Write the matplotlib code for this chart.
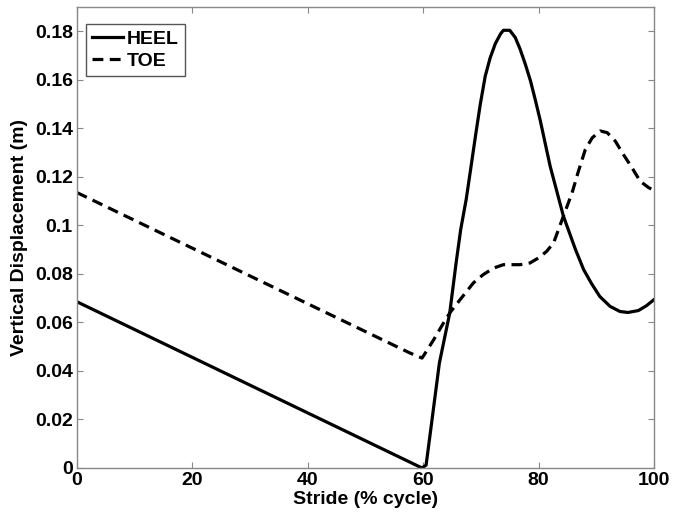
import matplotlib
matplotlib.use("Agg")
import matplotlib.pyplot as plt

heel_x = [0, 59.8, 60.5, 61.3, 62.8, 64.6, 65.7, 66.5, 67.45, 68.3, 69.1, 69.9, 70.75, 71.6,
          72.5, 73.4, 73.9, 75.0, 75.96, 76.8, 77.7, 78.6, 79.4, 80.3, 82.0, 84.3, 86.4,
          87.8, 89.1, 90.6, 92.4, 94.1, 95.5, 97.3, 98.7, 100]
heel_y = [0.0685, 0.0, 0.0012, 0.0157, 0.0432, 0.0639, 0.0845, 0.0983, 0.1107, 0.1244, 0.1375,
          0.1500, 0.1615, 0.1690, 0.1749, 0.1789, 0.1804, 0.1804, 0.1774, 0.1726, 0.1664,
          0.1595, 0.152, 0.1431, 0.1244, 0.1038, 0.090, 0.0818, 0.0763, 0.0707, 0.0666,
          0.0645, 0.0641, 0.0649, 0.0669, 0.0694]

toe_x = [0, 57.7, 59.8, 61.8, 63.5, 64.6, 66.4, 68.7, 70.4, 72.2, 73.9, 76.8, 78.5, 80.0,
         81.4, 82.6, 84.3, 85.8, 86.9, 88.1, 89.3, 90.7, 91.9, 93.3, 94.7, 96.2, 97.6,
         99.1, 100]
toe_y = [0.1135, 0.0474, 0.0453, 0.0528, 0.0597, 0.0639, 0.0694, 0.0763, 0.0797, 0.0824,
         0.0838, 0.0838, 0.0845, 0.0866, 0.0893, 0.0928, 0.1038, 0.1134, 0.1223, 0.1313,
         0.1361, 0.1389, 0.1382, 0.1347, 0.1292, 0.1237, 0.1182, 0.1155, 0.1145]

series_labels = ["HEEL", "TOE"]
x_ticks = [0, 20, 40, 60, 80, 100]
y_ticks = [0, 0.02, 0.04, 0.06, 0.08, 0.1, 0.12, 0.14, 0.16, 0.18]
y_ticklabels = ["0", "0.02", "0.04", "0.06", "0.08", "0.1", "0.12", "0.14", "0.16", "0.18"]

plt.rcParams['font.family'] = ['Liberation Sans', 'DejaVu Sans']
plt.rcParams['font.weight'] = 'bold'

fig = plt.figure(figsize=(6.74, 5.18), dpi=100)
ax = fig.add_axes([77/674, 1 - 468/518, (654 - 77)/674, (468 - 7)/518])

ax.plot(heel_x, heel_y, color='black', lw=2.3, label=series_labels[0],
        solid_joinstyle='round')
l2, = ax.plot(toe_x, toe_y, color='black', lw=2.3, label=series_labels[1])
l2.set_dashes([3.4, 2.0])

ax.set_xlim(0, 100)
ax.set_ylim(0, 0.19)
ax.set_xticks(x_ticks)
ax.set_yticks(y_ticks)
ax.set_yticklabels(y_ticklabels)

for s in ax.spines.values():
    s.set_color('#888888')
    s.set_linewidth(1.0)
ax.tick_params(direction='in', length=4, width=0.8, color='#888888', top=True, right=True,
               labelsize=14, labelcolor='black', pad=3)
for lab in ax.get_xticklabels() + ax.get_yticklabels():
    lab.set_fontweight('bold')

ax.set_xlabel("Stride (% cycle)", fontsize=14, fontweight='bold', labelpad=1)
ax.set_ylabel("Vertical Displacement (m)", fontsize=14, fontweight='bold', labelpad=5)

leg = ax.legend(loc='upper left', bbox_to_anchor=(0.0156, 0.963), borderaxespad=0,
                fancybox=False, fontsize=14, handlelength=1.6, handletextpad=0.2,
                borderpad=0.3, labelspacing=0.25, framealpha=1)
leg.get_frame().set_edgecolor('#555555')
leg.get_frame().set_linewidth(1.0)
for t in leg.get_texts():
    t.set_fontweight('bold')

fig.savefig("out.png", dpi=100)
